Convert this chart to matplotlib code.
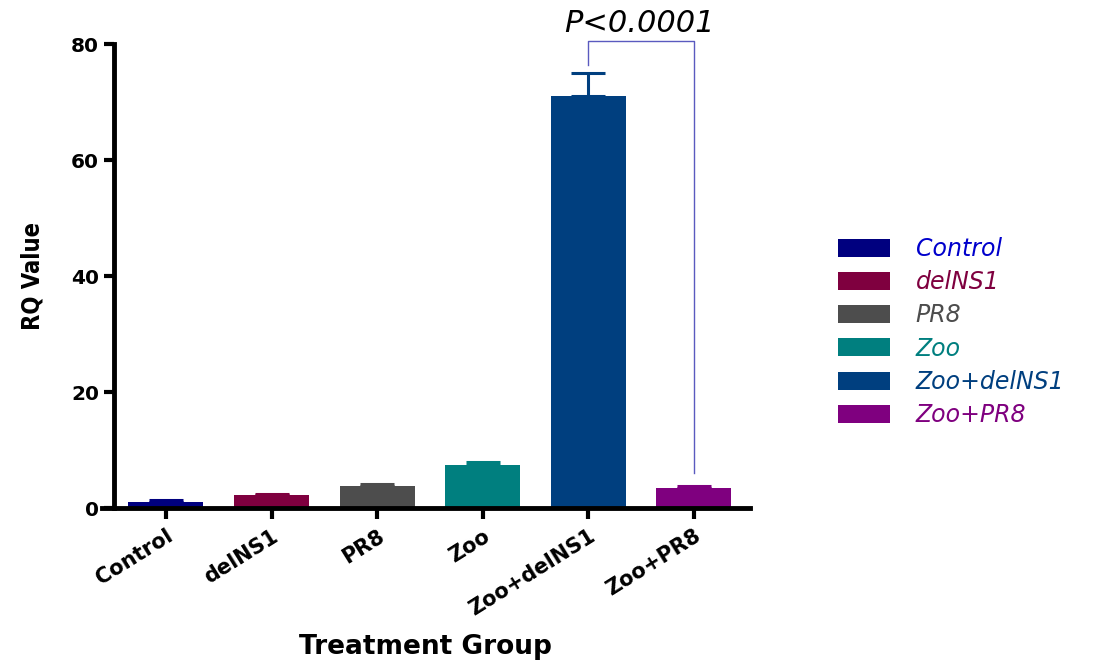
import matplotlib
matplotlib.use('Agg')
import matplotlib.pyplot as plt
from matplotlib.patches import Patch

# RQ values per treatment group (mean and upper error)
groups = ["Control", "delNS1", "PR8", "Zoo", "Zoo+delNS1", "Zoo+PR8"]
legend_labels = ["Control", "delNS1", "PR8", "Zoo", "Zoo+delNS1", "Zoo+PR8"]
rq_mean = [1.0, 2.3, 3.8, 7.5, 71.0, 3.5]
rq_err = [0.4, 0.1, 0.3, 0.4, 4.0, 0.3]
yticks = [0, 20, 40, 60, 80]
bar_colors = ['#00007f', '#7f003f', '#4d4d4d', '#007f7f', '#003f7f', '#7f007f']
text_colors = ['#0000cc', '#7f003f', '#4d4d4d', '#007f7f', '#003f7f', '#7f007f']
p_text = "P<0.0001"

plt.rcParams['font.family'] = ['DejaVu Sans']

fig = plt.figure(figsize=(11.01, 6.6), dpi=100)
ax = fig.add_axes([0.0926, 0.2303, 0.5885, 0.703])

# spine placement first: moving a spine resets the tick labels
ax.spines['top'].set_visible(False)
ax.spines['right'].set_visible(False)
ax.spines['left'].set_linewidth(3.5)
ax.spines['bottom'].set_linewidth(3.5)
ax.spines['left'].set_position(('data', -0.49))

x = list(range(len(groups)))
ax.bar(x, rq_mean, width=0.71, color=bar_colors, zorder=2)
for i in x:
    ax.errorbar(i, rq_mean[i], yerr=[[0], [rq_err[i]]], color=bar_colors[i],
                capsize=12.5, elinewidth=2.2, capthick=2.2, zorder=1)

ax.set_xlim(-0.606, 5.53)
ax.set_ylim(0, 80)
ax.set_yticks(yticks, labels=[str(v) for v in yticks], fontsize=14.5, fontweight='bold')
ax.set_xticks(x, labels=groups, rotation=32, ha='right', rotation_mode='anchor',
              fontsize=15, fontweight='bold')
ax.tick_params(axis='y', length=7, width=3, direction='out', pad=4)
ax.tick_params(axis='x', length=8, width=3, direction='out', pad=5)

ax.set_ylabel("RQ Value", fontsize=17, family='DejaVu Sans', stretch='condensed',
              fontweight='bold', labelpad=19)
ax.set_xlabel("Treatment Group", fontsize=19, fontweight='bold', labelpad=10)

# significance bracket between Zoo+delNS1 and Zoo+PR8
bx = [4, 4, 5, 5]
by = [76.4, 80.6, 80.6, 6.0]
ax.plot(bx, by, color='#5a5abf', linewidth=1.0, clip_on=False, zorder=3)
ax.text(4.48, 83.6, p_text, fontsize=22, style='italic', ha='center', va='center')

handles = [Patch(facecolor=c, edgecolor='none') for c in bar_colors]
leg = fig.legend(handles, legend_labels, loc='upper left', bbox_to_anchor=(0.761, 0.641),
                 frameon=False, fontsize=17, handlelength=2.2, handleheight=0.8,
                 labelspacing=0.39, handletextpad=1.1, borderpad=0, borderaxespad=0,
                 labelcolor=text_colors)
for t in leg.get_texts():
    t.set_style('italic')

fig.savefig('out.png', dpi=100)
